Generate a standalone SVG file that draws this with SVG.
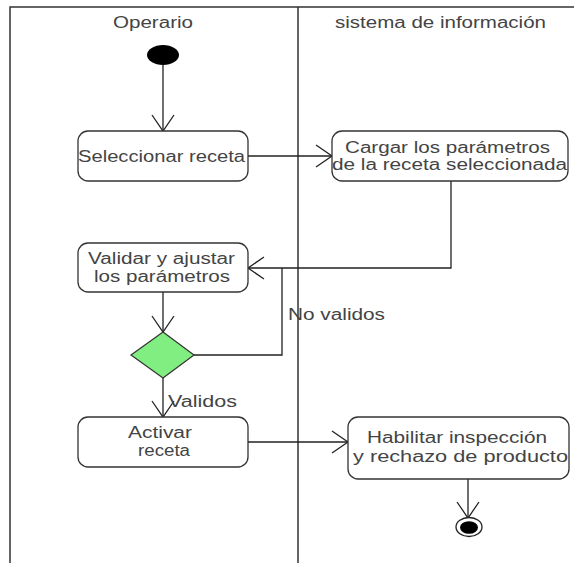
<svg xmlns="http://www.w3.org/2000/svg" width="575" height="563" viewBox="0 0 575 563">
<defs>
<marker id="open" markerUnits="userSpaceOnUse" markerWidth="22" markerHeight="28" viewBox="-19 -14 22 28" refX="0" refY="0" orient="auto" overflow="visible">
<path d="M -16 -11 L 0 0 L -16 11" fill="none" stroke="#222" stroke-width="1.3"/>
</marker>
</defs>
<style>
.lane{fill:none;stroke:#333;stroke-width:1.5}
.box{fill:#fff;stroke:#333;stroke-width:1.3}
.t{font-family:"Liberation Sans",Arial,sans-serif;font-size:16px;fill:#444}
.c{fill:none;stroke:#222;stroke-width:1.3}
</style>
<rect width="575" height="563" fill="#fff"/>
<g id="swimlanes">
<path class="lane" d="M10 563 V7 H574 M298 7 V563"/>
<text class="t" x="113" y="28" textLength="80" lengthAdjust="spacingAndGlyphs">Operario</text>
<text class="t" x="335" y="28" textLength="211" lengthAdjust="spacingAndGlyphs">sistema de información</text>
</g>
<g id="connectors">
<path class="c" d="M163 65 V131" marker-end="url(#open)"/>
<path class="c" d="M248 156 H332" marker-end="url(#open)"/>
<path class="c" d="M451 181 V268 H248" marker-end="url(#open)"/>
<path class="c" d="M163 292 V332" marker-end="url(#open)"/>
<path class="c" d="M194 355 H282 V268"/>
<path class="c" d="M163 378 V417" marker-end="url(#open)"/>
<path class="c" d="M248 442 H348" marker-end="url(#open)"/>
<path class="c" d="M468 479 V518" marker-end="url(#open)"/>
<text class="t" x="288" y="320" textLength="97" lengthAdjust="spacingAndGlyphs">No validos</text>
<text class="t" x="168" y="407" textLength="69" lengthAdjust="spacingAndGlyphs">Validos</text>
</g>
<g id="start">
<ellipse cx="163" cy="55" rx="16" ry="10" fill="#000"/>
</g>
<g id="seleccionar">
<rect class="box" x="78" y="131" width="170" height="50" rx="10"/>
<text class="t" x="78" y="162" textLength="167" lengthAdjust="spacingAndGlyphs">Seleccionar receta</text>
</g>
<g id="cargar">
<rect class="box" x="332" y="131" width="236" height="50" rx="10"/>
<text class="t" x="345" y="153" textLength="205" lengthAdjust="spacingAndGlyphs">Cargar los parámetros</text>
<text class="t" x="332" y="170" textLength="235" lengthAdjust="spacingAndGlyphs">de la receta seleccionada</text>
</g>
<g id="validar">
<rect class="box" x="78" y="243" width="170" height="49" rx="10"/>
<text class="t" x="88" y="264" textLength="147" lengthAdjust="spacingAndGlyphs">Validar y ajustar</text>
<text class="t" x="94" y="282" textLength="136" lengthAdjust="spacingAndGlyphs">los parámetros</text>
</g>
<g id="decision">
<polygon points="163,332 194,355 163,378 131,355" fill="#80EE80" stroke="#333" stroke-width="1.2"/>
</g>
<g id="activar">
<rect class="box" x="78" y="417" width="170" height="50" rx="10"/>
<text class="t" x="128" y="438" textLength="64" lengthAdjust="spacingAndGlyphs">Activar</text>
<text class="t" x="138" y="456" textLength="52" lengthAdjust="spacingAndGlyphs">receta</text>
</g>
<g id="habilitar">
<rect class="box" x="348" y="417" width="221" height="62" rx="10"/>
<text class="t" x="367" y="443" textLength="180" lengthAdjust="spacingAndGlyphs">Habilitar inspección</text>
<text class="t" x="353" y="462" textLength="215" lengthAdjust="spacingAndGlyphs">y rechazo de producto</text>
</g>
<g id="end">
<ellipse cx="469" cy="527" rx="13" ry="9.5" fill="#fff" stroke="#222" stroke-width="1.3"/>
<ellipse cx="469" cy="527.5" rx="9" ry="6.3" fill="#000"/>
</g>
</svg>
